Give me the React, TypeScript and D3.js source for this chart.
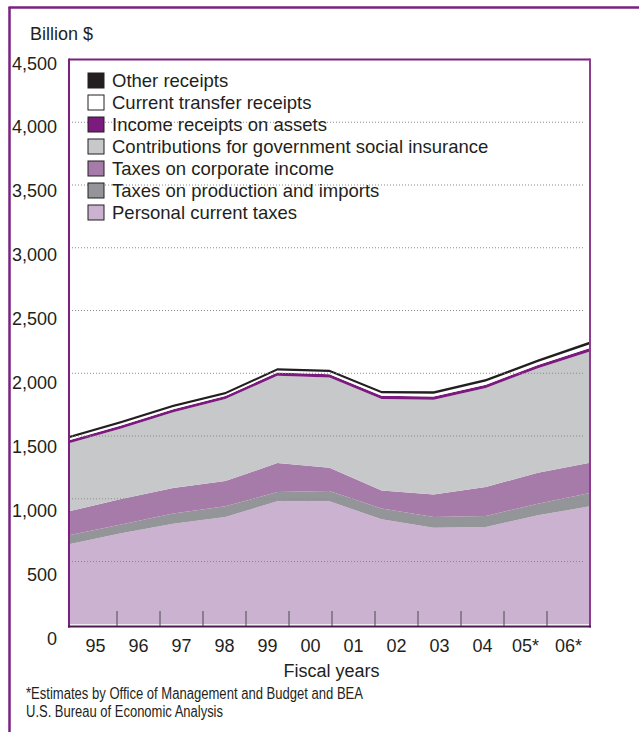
import React from "react";
import * as d3 from "d3";

// ---- data (billion $) at the 11 plotted observation points ----
const samples = [0, 1, 2, 3, 4, 5, 6, 7, 8, 9, 10];
const personal = [637, 725, 802, 855, 980, 980, 836, 770, 775, 868, 940];
const production = [72, 71, 80, 85, 74, 82, 86, 85, 88, 93, 106];
const corporate = [191, 203, 204, 201, 231, 186, 145, 180, 231, 247, 242];
const contributions = [542, 561, 603, 654, 696, 719, 728, 755, 788, 833, 886];
const income = [24, 24, 25, 24, 25, 25, 25, 24, 26, 25, 28];
const transfer = [16, 17, 17, 14, 16, 18, 20, 23, 26, 23, 30];
const other = [18, 18, 19, 17, 19, 19, 19, 20, 21, 20, 22];

const yearLabels = ["95", "96", "97", "98", "99", "00", "01", "02", "03", "04", "05*", "06*"];
const yTicks = [0, 500, 1000, 1500, 2000, 2500, 3000, 3500, 4000, 4500];
const gridTicks = [500, 1000, 1500, 2000, 2500, 3000, 3500, 4000];

const seriesKeys = ["personal", "production", "corporate", "contributions", "income", "transfer", "other"];
const seriesNames: Record<string, string> = {
  other: "Other receipts",
  transfer: "Current transfer receipts",
  income: "Income receipts on assets",
  contributions: "Contributions for government social insurance",
  corporate: "Taxes on corporate income",
  production: "Taxes on production and imports",
  personal: "Personal current taxes",
};
const legendOrder = ["other", "transfer", "income", "contributions", "corporate", "production", "personal"];
const colors: Record<string, string> = {
  personal: "#cbb2d0",
  production: "#939598",
  corporate: "#a67ba9",
  contributions: "#c7c8ca",
  income: "#7b1b7e",
  transfer: "#ffffff",
  other: "#231f20",
};

const FONT = "'Liberation Sans', Arial, Helvetica, sans-serif";
const TEXT = "#231f20";
const PURPLE = "#7b2080";

export default function App() {
  const left = 69, right = 590, top = 59.5, bottom = 624.3;
  const x = d3.scaleLinear().domain([0, 10]).range([left, right]);
  const y = d3.scaleLinear().domain([0, 4500]).range([bottom, top]);
  const yLab = d3.scaleLinear().domain([0, 4500]).range([638, 63]);
  const xb = d3.scaleBand<string>().domain(yearLabels).range([74, 590]);

  const table = samples.map((s, i) => ({
    s,
    personal: personal[i],
    production: production[i],
    corporate: corporate[i],
    contributions: contributions[i],
    income: income[i],
    transfer: transfer[i],
    other: other[i],
  }));
  const stacked = d3.stack<any>().keys(seriesKeys)(table);
  const area = d3
    .area<any>()
    .x((d) => x(d.data.s))
    .y0((d) => y(d[0]))
    .y1((d) => y(d[1]))
    .curve(d3.curveLinear);

  const tickXs = yearLabels.slice(1).map((l) => xb(l) as number);

  return (
    <svg
      width={639}
      height={732}
      style={{ position: "absolute", left: 0, top: 0, background: "#fff" }}
      fontFamily={FONT}
    >
      {/* outer frame */}
      <line x1={9.5} y1={7} x2={9.5} y2={732} stroke={PURPLE} strokeWidth={2.5} />
      <line x1={8.5} y1={7.5} x2={639} y2={7.5} stroke={PURPLE} strokeWidth={2.5} />

      <text x={30} y={40} fontSize={18} fill={TEXT}>Billion $</text>

      {/* areas */}
      {stacked.map((s) => (
        <path key={s.key} d={area(s as any) || ""} fill={colors[s.key]} />
      ))}

      {/* gridlines */}
      {gridTicks.map((t) => (
        <line
          key={t}
          x1={72}
          x2={585}
          y1={y(t)}
          y2={y(t)}
          stroke="#8a8a8a"
          strokeWidth={1}
          strokeDasharray="1,2"
        />
      ))}

      {/* x tick marks */}
      {tickXs.map((tx, i) => (
        <line key={i} x1={tx} x2={tx} y1={611} y2={626} stroke="#4a4a4a" strokeWidth={1} />
      ))}

      {/* plot frame */}
      <line x1={left} y1={top} x2={right} y2={top} stroke={PURPLE} strokeWidth={2} />
      <line x1={left} y1={top - 1} x2={left} y2={627.5} stroke={PURPLE} strokeWidth={2} />
      <line x1={right} y1={top - 1} x2={right} y2={627.5} stroke="#8e3b92" strokeWidth={2} />
      <line x1={left - 1} y1={626.5} x2={right + 1} y2={626.5} stroke="#4b1a4f" strokeWidth={2} />

      {/* y labels */}
      {yTicks.map((t) => (
        <text
          key={t}
          x={57}
          y={yLab(t) + 6.5}
          fontSize={18}
          textAnchor="end"
          fill={TEXT}
        >
          {d3.format(",")(t)}
        </text>
      ))}

      {/* x labels */}
      {yearLabels.map((l) => (
        <text
          key={l}
          x={(xb(l) as number) + xb.bandwidth() / 2}
          y={652}
          fontSize={18}
          textAnchor="middle"
          fill={TEXT}
        >
          {l}
        </text>
      ))}
      <text x={331.5} y={677} fontSize={18} textAnchor="middle" fill={TEXT}>
        Fiscal years
      </text>

      {/* legend */}
      {legendOrder.map((k, i) => {
        const cy = 80.5 + i * 22;
        return (
          <g key={k}>
            <rect x={88} y={cy - 7.5} width={16} height={15} fill={colors[k]} stroke="#231f20" strokeWidth={1} />
            <text x={112} y={cy + 6.3} fontSize={18.5} fill={TEXT}>
              {seriesNames[k]}
            </text>
          </g>
        );
      })}

      {/* footnotes */}
      <text x={26} y={699} fontSize={16} fill={TEXT} textLength={337} lengthAdjust="spacingAndGlyphs">
        *Estimates by Office of Management and Budget and BEA
      </text>
      <text x={26} y={717} fontSize={16} fill={TEXT} textLength={197} lengthAdjust="spacingAndGlyphs">
        U.S. Bureau of Economic Analysis
      </text>
    </svg>
  );
}
